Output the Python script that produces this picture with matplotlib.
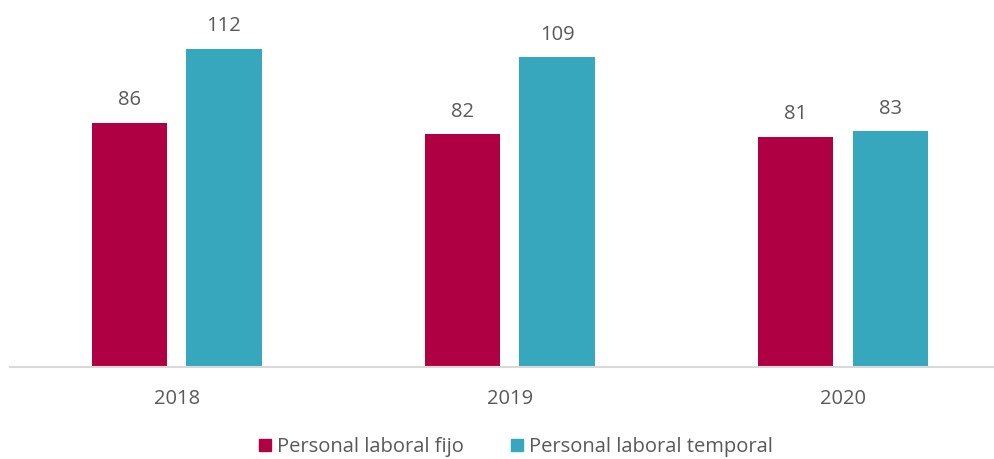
import numpy as np
import matplotlib.pyplot as plt
from matplotlib.patches import Patch

years = ["2018", "2019", "2020"]
fijo = [86, 82, 81]
temporal = [112, 109, 83]
series_names = ["Personal laboral fijo", "Personal laboral temporal"]

col_fijo = "#AE0042"
col_temp = "#37A7BD"
txt_col = "#595959"

plt.rcParams["font.family"] = ["Open Sans", "DejaVu Sans"]

W, H = 995, 459
fig = plt.figure(figsize=(W / 100, H / 100), dpi=100)
# axes: baseline at y=367px, left at x=10px, runs to the right edge
ax = fig.add_axes([10 / W, (H - 367) / H, (W - 10) / W, 367 / H])

x = np.arange(len(years))
bw = 0.226
off = 0.142
b1 = ax.bar(x - off, fijo, bw, color=col_fijo, zorder=2)
b2 = ax.bar(x + off, temporal, bw, color=col_temp, zorder=2)

for bars, vals in ((b1, fijo), (b2, temporal)):
    for rect, v in zip(bars, vals):
        ax.annotate(str(v), (rect.get_x() + rect.get_width() / 2, v),
                    xytext=(0, 9), textcoords="offset points",
                    ha="center", va="bottom", fontsize=14.5, color=txt_col)

ax.set_xlim(-0.5, 2 + (W - 843) / 333)
ax.set_ylim(0, 367 / 2.84)
ax.set_xticks(x)
ax.set_xticklabels(years, fontsize=14.5, color=txt_col)
ax.tick_params(axis="x", length=0, pad=16)
ax.set_yticks([])
for s in ("top", "right", "left"):
    ax.spines[s].set_visible(False)
ax.spines["bottom"].set_color("#D9D9D9")
ax.spines["bottom"].set_linewidth(1.5)

handles = [Patch(color=col_fijo), Patch(color=col_temp)]
fig.legend(handles, series_names, loc="center", bbox_to_anchor=(516 / W, 12 / H),
           ncol=2, frameon=False, fontsize=14.5, labelcolor=txt_col,
           handlelength=0.6, handleheight=0.6, handletextpad=0.3, columnspacing=2.3)

fig.savefig("out.png", dpi=100)
